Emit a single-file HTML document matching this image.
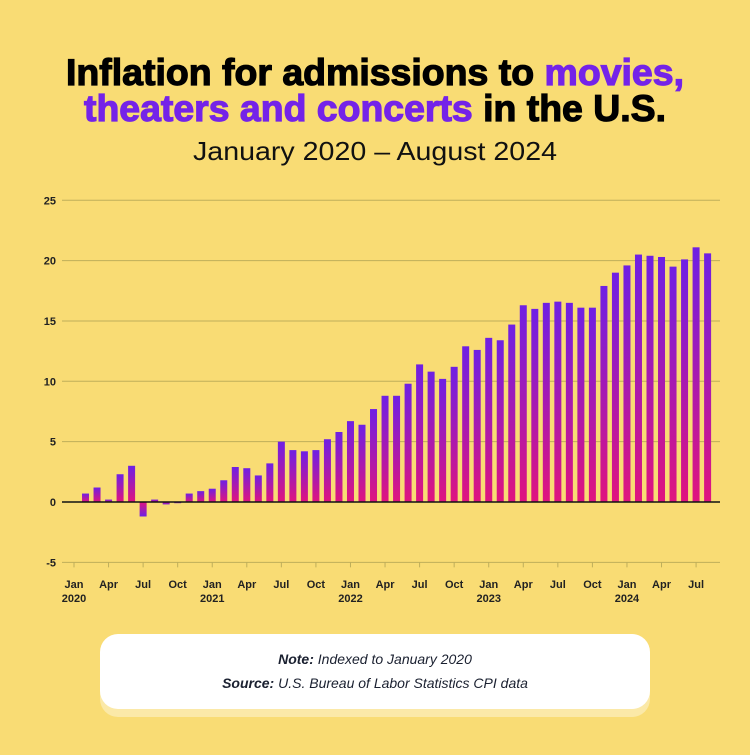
<!DOCTYPE html>
<html><head><meta charset="utf-8"><style>
body{margin:0;width:750px;height:750px;background:#f9dc74;overflow:hidden;font-family:"Liberation Sans",sans-serif}
</style></head><body>
<svg width="750" height="750">
<defs>
<linearGradient id="gp" x1="0" y1="1" x2="0" y2="0"><stop offset="0" stop-color="#e0147e"/><stop offset="1" stop-color="#6e20e4"/></linearGradient>
<linearGradient id="gn" x1="0" y1="0" x2="0" y2="1"><stop offset="0" stop-color="#e0147e"/><stop offset="1" stop-color="#6e20e4"/></linearGradient>
</defs>
<text x="375" y="85" text-anchor="middle" font-size="37" font-weight="bold" fill="#000" stroke="#000" stroke-width="1.2" textLength="618" lengthAdjust="spacingAndGlyphs">Inflation for admissions to <tspan fill="#7423e8" stroke="#7423e8">movies,</tspan></text>
<text x="375" y="121" text-anchor="middle" font-size="37" font-weight="bold" fill="#000" stroke="#000" stroke-width="1.2" textLength="582" lengthAdjust="spacingAndGlyphs"><tspan fill="#7423e8" stroke="#7423e8">theaters and concerts</tspan> in the U.S.</text>
<text x="375" y="160" text-anchor="middle" font-size="26" fill="#111" textLength="364" lengthAdjust="spacingAndGlyphs">January 2020 – August 2024</text>
<g id="grid"></g><g id="bars"></g><g id="xaxis"></g>
<rect x="100" y="642" width="550" height="75" rx="18" fill="#fbe9a8"/>
<rect x="100" y="634" width="550" height="75" rx="18" fill="#fff"/>
<text x="375" y="664" text-anchor="middle" font-size="14" font-style="italic" fill="#1a2030"><tspan font-weight="bold">Note:</tspan> Indexed to January 2020</text>
<text x="375" y="688" text-anchor="middle" font-size="14" font-style="italic" fill="#1a2030"><tspan font-weight="bold">Source:</tspan> U.S. Bureau of Labor Statistics CPI data</text>
</svg>
<script>
const values=[0,0.7,1.2,0.2,2.3,3.0,-1.2,0.2,-0.2,-0.1,0.7,0.9,
1.1,1.8,2.9,2.8,2.2,3.2,5.0,4.3,4.2,4.3,5.2,5.8,
6.7,6.4,7.7,8.8,8.8,9.8,11.4,10.8,10.2,11.2,12.9,12.6,
13.6,13.4,14.7,16.3,16.0,16.5,16.6,16.5,16.1,16.1,17.9,19.0,
19.6,20.5,20.4,20.3,19.5,20.1,21.1,20.6];
const yTicks=[-5,0,5,10,15,20,25];
const xTickMonths=["Jan","Apr","Jul","Oct"];
const years=["2020","2021","2022","2023","2024"];
const NS="http://www.w3.org/2000/svg";
const y=v=>502-v*12.07;
const x=i=>74+i*11.52;
function mk(t,a,p){const e=document.createElementNS(NS,t);for(const k in a)e.setAttribute(k,a[k]);p.appendChild(e);return e;}
const grid=document.getElementById('grid');
yTicks.forEach(t=>{
 if(t!==0){const l=mk('line',{x1:62,x2:720,y1:y(t),y2:y(t),stroke:'#bfae5a','stroke-width':1},grid);
 
 }
 const tx=mk('text',{x:56,y:y(t)+4,'text-anchor':'end','font-size':11,'font-weight':'bold',fill:'#222'},grid);
 tx.textContent=t;
 
 
});
const bars=document.getElementById('bars');
values.forEach((v,i)=>{
 const top=Math.min(y(v),y(0)),h=Math.abs(y(v)-y(0));
 const r=mk('rect',{x:x(i)-3.5,y:top,width:7,height:Math.max(h,0.5),fill:v>=0?'url(#gp)':'url(#gn)'},bars);
 
 
});
const z=mk('line',{x1:62,x2:720,y1:y(0),y2:y(0),stroke:'#111','stroke-width':1.5},bars);


const xa=document.getElementById('xaxis');
for(let i=0;i<values.length;i+=3){
 const t=mk('line',{x1:x(i),x2:x(i),y1:y(-5),y2:y(-5)+5,stroke:'#bfae5a'},xa);
 
 
 const lb=mk('text',{x:x(i),y:588,'text-anchor':'middle','font-size':11,'font-weight':'bold',fill:'#222'},xa);
 lb.textContent=xTickMonths[(i/3)%4];
 
 
 if(i%12===0){const yr=mk('text',{x:x(i),y:602,'text-anchor':'middle','font-size':11,'font-weight':'bold',fill:'#222'},xa);
 yr.textContent=years[i/12];
 
 }
}
</script>
</body></html>
